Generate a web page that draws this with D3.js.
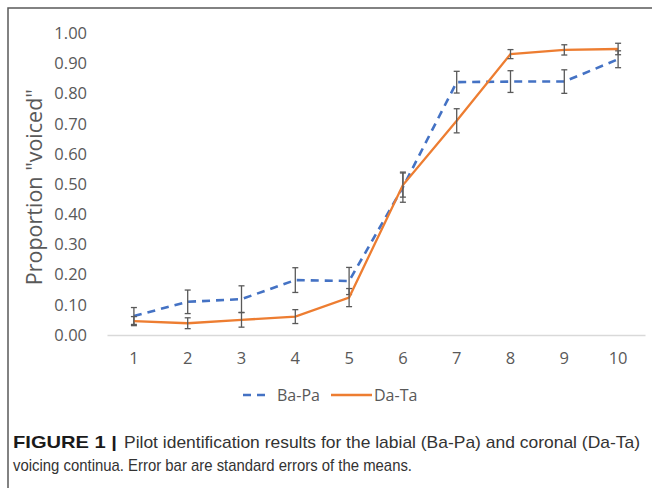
<!DOCTYPE html>
<html>
<head>
<meta charset="utf-8">
<script src="https://cdn.jsdelivr.net/npm/d3@7"></script>
<style>
  body { margin: 0; background: #fff; }
  svg { display: block; }
</style>
</head>
<body>
<div id="chart"></div>
<script>
// Data
const steps = ["1", "2", "3", "4", "5", "6", "7", "8", "9", "10"];
const baPa = [0.063, 0.110, 0.119, 0.182, 0.179, 0.490, 0.838, 0.840, 0.840, 0.914];
const baPaErr = [0.028, 0.039, 0.044, 0.041, 0.045, 0.050, 0.036, 0.036, 0.039, 0.028];
const daTa = [0.046, 0.039, 0.050, 0.061, 0.124, 0.497, 0.710, 0.931, 0.945, 0.948];
const daTaErr = [0.015, 0.018, 0.024, 0.023, 0.030, 0.040, 0.040, 0.015, 0.017, 0.019];
const yTicks = [0, 0.1, 0.2, 0.3, 0.4, 0.5, 0.6, 0.7, 0.8, 0.9, 1.0];

const config = {
    containerWidth: 652,
    containerHeight: 488,
    margin: {top: 33.3, right: 7, bottom: 153, left: 107}
};
config.width = config.containerWidth - config.margin.left - config.margin.right;
config.height = config.containerHeight - config.margin.top - config.margin.bottom;

const svg = d3.select("#chart").append("svg")
    .attr("width", config.containerWidth)
    .attr("height", config.containerHeight);

// Frame around the figure (right and bottom edges fall outside the crop)
svg.append("rect")
    .attr("x", 8).attr("y", 8)
    .attr("width", 700).attr("height", 600)
    .attr("fill", "none")
    .attr("stroke", "#5a5a5a")
    .attr("stroke-width", 1.5);

const chart = svg.append("g")
    .attr("transform", `translate(${config.margin.left},${config.margin.top})`);

// Scales
const x = d3.scaleBand()
    .domain(steps)
    .range([0, config.width]);

const y = d3.scaleLinear()
    .domain([0, 1])
    .range([config.height, 0]);

const fontChart = "'Open Sans', 'DejaVu Sans', sans-serif";

// Y axis (labels only)
const yAxis = chart.append("g")
    .call(d3.axisLeft(y).tickValues(yTicks).tickFormat(d3.format(".2f")).tickSize(0).tickPadding(20));
yAxis.select(".domain").remove();
yAxis.selectAll("text")
    .attr("fill", "#595959")
    .style("font-family", fontChart)
    .style("font-size", "16.5px");

// X axis
const xAxis = chart.append("g")
    .attr("transform", `translate(0,${config.height})`)
    .call(d3.axisBottom(x).tickSize(0).tickPadding(17));
xAxis.select(".domain")
    .attr("stroke", "#d9d9d9")
    .attr("stroke-width", 1.3);
xAxis.selectAll("text")
    .attr("fill", "#595959")
    .style("font-family", fontChart)
    .style("font-size", "16.5px");

// Y axis title
svg.append("text")
    .attr("transform", `translate(42,${config.margin.top + config.height / 2 + 3}) rotate(-90)`)
    .attr("text-anchor", "middle")
    .attr("fill", "#595959")
    .style("font-family", fontChart)
    .style("font-size", "21.5px")
    .text('Proportion "voiced"');

const cx = d => x(d) + x.bandwidth() / 2;

const series = [
    {name: "Ba-Pa", values: baPa, errs: baPaErr, color: "#4472c4", dash: "8,6", width: 2.6},
    {name: "Da-Ta", values: daTa, errs: daTaErr, color: "#ed7d31", dash: null, width: 2.3}
];

const line = d3.line()
    .x(d => cx(d.step))
    .y(d => y(d.v));

series.forEach(s => {
    const pts = steps.map((step, i) => ({step: step, v: s.values[i], e: s.errs[i]}));

    chart.append("path")
        .datum(pts)
        .attr("fill", "none")
        .attr("stroke", s.color)
        .attr("stroke-width", s.width)
        .attr("stroke-dasharray", s.dash)
        .attr("d", line);

    // Error bars
    const eb = chart.append("g")
        .attr("stroke", "#595959")
        .attr("stroke-width", 1.3)
        .selectAll("g")
        .data(pts)
        .join("g");

    eb.append("line")
        .attr("x1", d => cx(d.step)).attr("x2", d => cx(d.step))
        .attr("y1", d => y(d.v - d.e)).attr("y2", d => y(d.v + d.e));
    eb.append("line")
        .attr("x1", d => cx(d.step) - 3).attr("x2", d => cx(d.step) + 3)
        .attr("y1", d => y(d.v + d.e)).attr("y2", d => y(d.v + d.e));
    eb.append("line")
        .attr("x1", d => cx(d.step) - 3).attr("x2", d => cx(d.step) + 3)
        .attr("y1", d => y(d.v - d.e)).attr("y2", d => y(d.v - d.e));
});

// Legend
const legendX = [243, 331];
const legend = svg.append("g")
    .selectAll("g")
    .data(series)
    .join("g")
    .attr("transform", (d, i) => `translate(${legendX[i]},395)`);

legend.append("line")
    .attr("x1", 0).attr("x2", (d, i) => i === 0 ? 28 : 41)
    .attr("y1", 0).attr("y2", 0)
    .attr("stroke", d => d.color)
    .attr("stroke-width", d => d.width)
    .attr("stroke-dasharray", d => d.dash);

legend.append("text")
    .attr("x", (d, i) => i === 0 ? 34 : 43)
    .attr("y", 0)
    .attr("dy", "0.35em")
    .attr("fill", "#595959")
    .style("font-family", fontChart)
    .style("font-size", "16px")
    .text(d => d.name);

// Caption
const fontCap = "'Liberation Sans Narrow', 'Liberation Sans', Arial, sans-serif";
svg.append("text")
    .attr("x", 13).attr("y", 448)
    .attr("fill", "#1a1a1a")
    .attr("textLength", 104)
    .attr("lengthAdjust", "spacingAndGlyphs")
    .style("font-family", fontCap)
    .style("font-size", "17px")
    .style("font-weight", "bold")
    .text("FIGURE 1 |");

svg.append("text")
    .attr("x", 124).attr("y", 448)
    .attr("fill", "#333")
    .attr("textLength", 516)
    .attr("lengthAdjust", "spacingAndGlyphs")
    .style("font-family", fontCap)
    .style("font-size", "17px")
    .text("Pilot identification results for the labial (Ba-Pa) and coronal (Da-Ta)");

svg.append("text")
    .attr("x", 13).attr("y", 471)
    .attr("fill", "#333")
    .attr("textLength", 399)
    .attr("lengthAdjust", "spacingAndGlyphs")
    .style("font-family", fontCap)
    .style("font-size", "17px")
    .text("voicing continua. Error bar are standard errors of the means.");
</script>
</body>
</html>
